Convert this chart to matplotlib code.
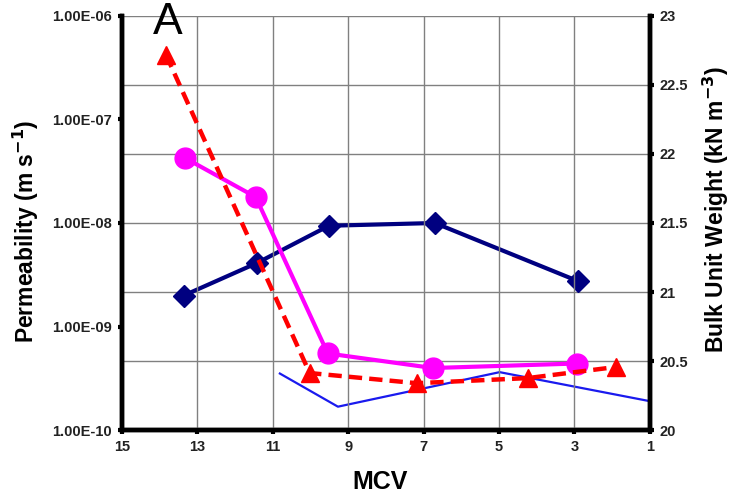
import numpy as np
import matplotlib
matplotlib.use('Agg')
import matplotlib.pyplot as plt
from matplotlib.ticker import FixedLocator, FuncFormatter

plt.rcParams['font.family'] = ['Liberation Sans', 'DejaVu Sans']

# permeability (left axis, m/s)
mcv_circ = [13.33, 11.45, 9.54, 6.75, 2.94]
perm_circ = [4.25e-8, 1.78e-8, 5.5e-10, 3.98e-10, 4.4e-10]

mcv_tri = [13.83, 10.02, 7.18, 4.24, 1.90]
perm_tri = [4.2e-7, 3.56e-10, 2.84e-10, 3.18e-10, 4.07e-10]

# bulk unit weight (right axis, kN/m3)
mcv_dia = [13.36, 11.42, 9.51, 6.70, 2.91]
buw_dia = [20.975, 21.21, 21.48, 21.50, 21.08]

mcv_thin = [10.81, 9.27, 4.98, 1.0]
buw_thin = [20.41, 20.17, 20.42, 20.21]

x_ticks = [15, 13, 11, 9, 7, 5, 3, 1]
left_ticks = [1e-10, 1e-9, 1e-8, 1e-7, 1e-6]
right_ticks = [20, 20.5, 21, 21.5, 22, 22.5, 23]

fig = plt.figure(figsize=(7.3, 4.95), dpi=100)
ax = fig.add_axes([0.167, 0.131, 0.723, 0.837])
ax2 = ax.twinx()

ax.set_yscale('log')
ax.set_xlim(15, 1)
ax.set_ylim(1e-10, 1e-6)
ax2.set_ylim(20, 23)

# grid comes from the right axis, vertical lines from x
ax.xaxis.set_major_locator(FixedLocator(x_ticks))
ax.grid(True, axis='x', color='#808080', lw=1.0)
ax2.yaxis.set_major_locator(FixedLocator(right_ticks))
ax2.grid(True, axis='y', color='#808080', lw=1.0)
ax.set_axisbelow(True)

ax.plot(mcv_tri, perm_tri, color='#ff0000', ls=(0, (3, 1.6)), lw=3.2,
        marker='^', ms=13, zorder=4)
ax.plot(mcv_circ, perm_circ, color='#ff00ff', lw=3, marker='o', ms=15, zorder=3)
ax.set_zorder(ax2.get_zorder() + 1)
ax.patch.set_visible(False)

ax2.plot(mcv_thin, buw_thin, color='#1a1aee', lw=1.6, zorder=2)
ax2.plot(mcv_dia, buw_dia, color='#000080', lw=3, marker='D', ms=11, zorder=3)

ax.yaxis.set_major_locator(FixedLocator(left_ticks))
ax.yaxis.set_minor_locator(FixedLocator([]))
ax.yaxis.set_major_formatter(FuncFormatter(lambda v, p: '{:.2E}'.format(v)))
ax2.yaxis.set_major_formatter(FuncFormatter(lambda v, p: '{:g}'.format(v)))

for a in (ax, ax2):
    a.spines['top'].set_visible(False)
    for s in ('left', 'right', 'bottom'):
        a.spines[s].set_linewidth(3.2)
    a.tick_params(length=3, width=3, labelsize=10.5, pad=4)
    for lab in a.get_xticklabels() + a.get_yticklabels():
        lab.set_fontweight('bold')
        lab.set_color('#222222')

fig.text(0.521, 0.026, 'MCV', fontsize=18, fontweight='bold', ha='center', va='center')
fig.text(0.036, 0.533, 'Permeability (m s$^{\\mathbf{-1}}$)', fontsize=16.5, fontweight='bold',
         rotation=90, ha='center', va='center')
fig.text(0.981, 0.576, 'Bulk Unit Weight (kN m$^{\\mathbf{-3}}$)', fontsize=16.5, fontweight='bold',
         rotation=90, ha='center', va='center')

fig.text(153 / 730, 1 - 2 / 495, 'A', fontsize=32, va='top', ha='left')

fig.savefig('out.png', dpi=100)
